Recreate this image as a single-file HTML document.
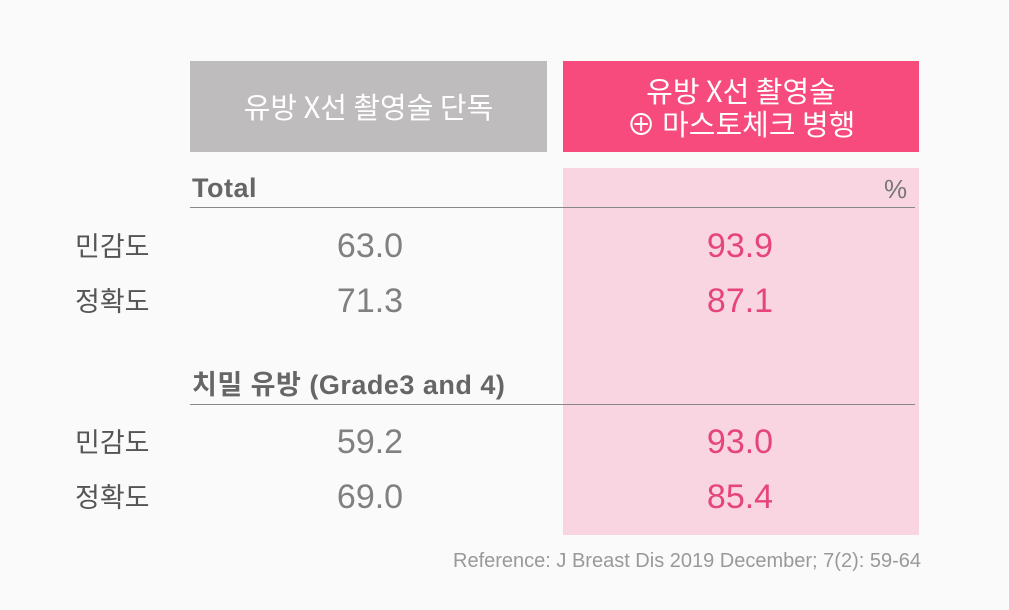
<!DOCTYPE html>
<html><head><meta charset="utf-8"><style>
body{margin:0;width:1009px;height:610px;background:#fafafa;position:relative;overflow:hidden;font-family:"Liberation Sans","Noto Sans CJK KR",sans-serif}
div{position:absolute;white-space:nowrap}
.box{display:flex;align-items:center;justify-content:center;text-align:center;color:#fff;font-size:29px;line-height:33px;font-family:"Noto Sans CJK KR","Liberation Sans",sans-serif}
.lab{left:75px;font-size:27px;color:#555;width:100px;line-height:30px}
.num{font-size:34px;color:#808080;width:200px;text-align:center;left:270px;line-height:36px}
.pn{font-size:34px;color:#e5457c;width:200px;text-align:center;left:640px;line-height:36px}
.hd{left:192px;font-size:27px;color:#666;font-weight:bold;line-height:28px;letter-spacing:0.5px}
.ln{left:190px;width:725px;height:1px;background:#888}
</style></head><body>
<div class="box" style="left:190px;top:61px;width:357px;height:91px;background:#bfbcbd">유방 X선 촬영술 단독</div>
<div class="box" style="left:563px;top:61px;width:356px;height:91px;background:#f74a7d">유방 X선 촬영술<br>⊕ 마스토체크 병행</div>
<div style="left:563px;top:168px;width:356px;height:367px;background:#f8d5e1"></div>
<div class="hd" style="top:174px">Total</div>
<div style="left:884px;top:174px;font-size:26px;color:#777">%</div>
<div class="ln" style="top:207px"></div>
<div class="lab" style="top:232px">민감도</div><div class="num" style="top:228px">63.0</div><div class="pn" style="top:228px">93.9</div>
<div class="lab" style="top:287px">정확도</div><div class="num" style="top:283px">71.3</div><div class="pn" style="top:283px">87.1</div>
<div class="hd" style="top:371px">치밀 유방 (Grade3 and 4)</div>
<div class="ln" style="top:404px"></div>
<div class="lab" style="top:428px">민감도</div><div class="num" style="top:424px">59.2</div><div class="pn" style="top:424px">93.0</div>
<div class="lab" style="top:483px">정확도</div><div class="num" style="top:479px">69.0</div><div class="pn" style="top:479px">85.4</div>
<div style="left:421px;top:550px;font-size:20px;color:#999;width:500px;text-align:right">Reference: J Breast Dis 2019 December; 7(2): 59-64</div>
</body></html>
